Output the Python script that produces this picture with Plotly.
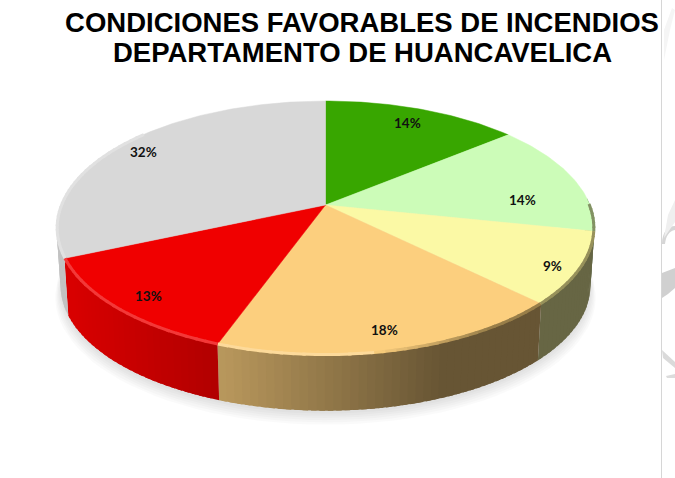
import math
import plotly.graph_objects as go

# ---- data ----
categories = ["Muy baja", "Baja", "Media", "Alta", "Muy alta", "Sin datos"]
shares = [14.0, 14.3, 9.1, 18.1, 12.9, 31.6]
colors = ["#38a600", "#ccfcb8", "#fbf9a5", "#fccf7e", "#f00000", "#d8d8d8"]
title_lines = ["CONDICIONES FAVORABLES DE INCENDIOS", "DEPARTAMENTO DE HUANCAVELICA"]

# ---- style / geometry of the tilted disc ----
W, H = 675, 478
CX, CY = 325.5, 205.0      # apex
R, S, K = 264.5, 122.8, 0.181
DEPTH = 58.0
BOTTOM_SCALE = 0.985
LABEL_F = 0.8
label_nudge = [(2, -3), (-2, 18), (27, 11), (4, 13), (-16, 11), (-18, -3)]

# faint scraps of the page behind, right of the separator
scraps = [
    ("M662,244 C662,232 668,226 675,226 L675,230 C669,231 666,236 665,244 Z", "#d6d6d6"),
    ("M662,273 L675,268 L675,288 L668,294 L662,298 Z", "#d0d0d0"),
    ("M662,350 L675,362 L675,368 L663,358 Z", "#dadada"),
    ("M666,376 L675,374 L675,378 L667,378 Z", "#dcdcdc"),
    ("M668,215 L675,200 L675,222 L664,238 Z", "#efefef"),
    ("M664,30 L672,8 L675,10 L670,30 L664,60 Z", "#f5f5f5"),
]


def proj(theta_deg, f=1.0, dy=0.0, scale=1.0):
    t = math.radians(theta_deg)
    c, s = math.cos(t) * f, math.sin(t) * f
    w = 1 + K * c
    return CX + scale * R * s / w, CY + dy + scale * (-S * c / w)


def rgb(h):
    return tuple(int(h[i:i + 2], 16) for i in (1, 3, 5))


def shade(h, k):
    return "rgb(%d,%d,%d)" % tuple(min(255, max(0, round(v * k))) for v in rgb(h))


def mix(h, other, a):
    return "rgb(%d,%d,%d)" % tuple(round(v * (1 - a) + o * a) for v, o in zip(rgb(h), other))


def wall_factor(x):
    if x <= 70:
        return 0.9
    if x <= 220:
        return 0.9 + (x - 70) / 150 * (0.73 - 0.9)
    if x <= 440:
        return 0.73 + (x - 220) / 220 * (0.41 - 0.73)
    return 0.41


def arc(a, b, step=2.0):
    n = max(2, int(abs(b - a) / step) + 1)
    return [a + (b - a) * i / (n - 1) for i in range(n)]


fig = go.Figure()
total = sum(shares)
edges = [0.0]
for v in shares:
    edges.append(edges[-1] + v / total * 360)

# soft shadow under the disc
for i in range(6):
    pts = [proj(t, dy=DEPTH + 3 + i * 1.6, scale=BOTTOM_SCALE + 0.004 * i) for t in arc(0, 360, 3)]
    fig.add_trace(go.Scatter(x=[p[0] for p in pts], y=[p[1] for p in pts], mode="lines",
                             fill="toself", fillcolor="rgba(0,0,0,0.02)", line=dict(width=0),
                             hoverinfo="skip"))

# side wall, in thin strips that overlap a little to hide seams
for i, col in enumerate(colors):
    a, b = edges[i], edges[i + 1]
    ts = arc(a, b, 1.5)
    for t0, t1 in zip(ts[:-1], ts[1:]):
        if math.cos(math.radians((t0 + t1) / 2)) > 0.05:
            continue
        lo, hi = t0, min(t1 + 1.0, b)
        p0, p1 = proj(lo), proj(hi)
        q1, q0 = proj(hi, dy=DEPTH, scale=BOTTOM_SCALE), proj(lo, dy=DEPTH, scale=BOTTOM_SCALE)
        c = shade(col, wall_factor((p0[0] + p1[0]) / 2))
        fig.add_trace(go.Scatter(x=[p0[0], p1[0], q1[0], q0[0], p0[0]],
                                 y=[p0[1], p1[1], q1[1], q0[1], p0[1]],
                                 mode="lines", fill="toself", fillcolor=c,
                                 line=dict(width=0), hoverinfo="skip"))

# top faces
for i, (name, col) in enumerate(zip(categories, colors)):
    pts = [proj(t) for t in arc(edges[i], edges[i + 1], 1.0)]
    xs = [CX] + [p[0] for p in pts] + [CX]
    ys = [CY] + [p[1] for p in pts] + [CY]
    fig.add_trace(go.Scatter(x=xs, y=ys, mode="lines", fill="toself", fillcolor=col,
                             line=dict(color=col, width=0.5), name=name, hoverinfo="skip"))

# bevel along the rim
for i, col in enumerate(colors):
    ts = arc(edges[i], edges[i + 1], 2.0)
    for t0, t1 in zip(ts[:-1], ts[1:]):
        mid = (t0 + t1) / 2
        if mid < 90 or mid > 310:
            continue
        hi = min(t1 + 0.6, edges[i + 1])
        p0, p1 = proj(t0, f=0.998), proj(hi, f=0.998)
        x = (p0[0] + p1[0]) / 2
        if x < 370:
            c = mix(col, (255, 255, 255), 0.22)
        else:
            c = mix(col, (70, 60, 30), min(0.55, (x - 370) / 120 * 0.55))
        fig.add_trace(go.Scatter(x=[p0[0], p1[0]], y=[p0[1], p1[1]], mode="lines",
                                 line=dict(color=c, width=3), hoverinfo="skip"))

annotations = []
cum = 0.0
for v, (nx, ny) in zip(shares, label_nudge):
    mid = (cum + v / 2) / total * 360
    cum += v
    x, y = proj(mid, f=LABEL_F)
    annotations.append(dict(x=x, y=y, xref="x", yref="y", text=f"<b>{round(v)}%</b>", showarrow=False,
                            xshift=nx, yshift=-ny, font=dict(family="Lato", size=13.5, color="#111111")))

annotations.append(dict(x=362, y=52, xref="x", yref="y", text=f"<b>{title_lines[1]}</b>", showarrow=False,
                        font=dict(family="Liberation Sans", size=27.5, color="#000000")))

shapes = [dict(type="path", path=p, fillcolor=c, line=dict(width=0), layer="below") for p, c in scraps]
shapes.append(dict(type="line", x0=661.5, x1=661.5, y0=0, y1=H, line=dict(color="#d6d6d6", width=1)))

fig.update_layout(
    width=W, height=H, margin=dict(l=0, r=0, t=0, b=0),
    paper_bgcolor="white", plot_bgcolor="white", showlegend=False,
    title=dict(text=f"<b>{title_lines[0]}</b>", x=362 / W, xanchor="center", y=1 - 22 / H, yanchor="middle",
               font=dict(family="Liberation Sans", size=27.5, color="#000000")),
    xaxis=dict(range=[0, W], visible=False, fixedrange=True),
    yaxis=dict(range=[H, 0], visible=False, fixedrange=True),
    annotations=annotations,
    shapes=shapes,
)
fig.write_html("out.html", config={"displayModeBar": False},
               post_script="document.body.style.margin='0';")
